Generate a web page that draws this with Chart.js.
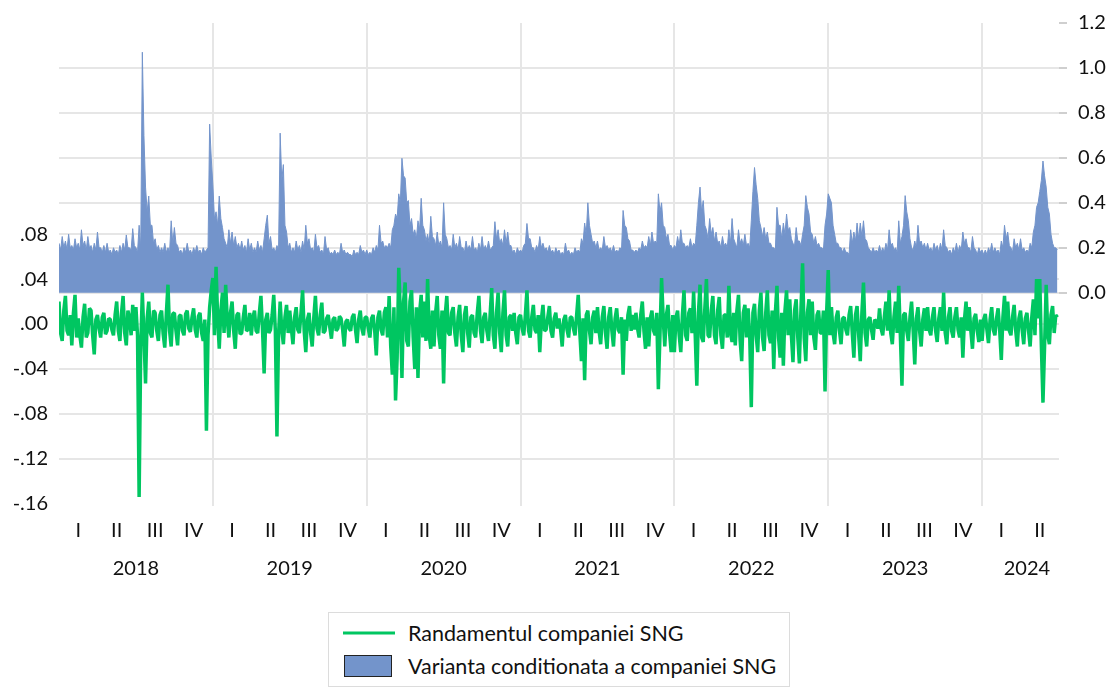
<!DOCTYPE html>
<html>
<head>
<meta charset="utf-8">
<script src="https://cdn.jsdelivr.net/npm/chart.js@4.4.1/dist/chart.umd.min.js"></script>
<style>
  html, body { margin: 0; padding: 0; background: #fff; }
  #wrap { position: relative; width: 1115px; height: 688px; }
  #legend { position: absolute; left: 328px; top: 612px; width: 460px; height: 73px;
            border: 1px solid #dcdcdc; background: #fff; font-family: Lato, sans-serif;
            font-size: 21.5px; color: #111; }
  .item { position: absolute; left: 0; width: 100%; height: 30px; }
  .item .lab { position: absolute; left: 79px; top: 50%; transform: translateY(-50%); white-space: nowrap; }
  .item .swl { position: absolute; left: 14px; width: 52px; height: 3px; top: 50%; transform: translateY(-50%); }
  .item .swb { position: absolute; left: 15px; width: 46px; height: 20px; top: 50%; transform: translateY(-50%); border: 1px solid #222; }
</style>
</head>
<body>
<div id="wrap">
  <canvas id="c" width="1115" height="688"></canvas>
  <div id="legend"></div>
</div>
<script>
// ---- data (24 readings per quarter, 2018Q1 .. 2024Q2) ----
const quarterLabels = ['I', 'II', 'III', 'IV'];
const yearLabels = ['2018', '2019', '2020', '2021', '2022', '2023', '2024'];
const seriesNames = ['Randamentul companiei SNG', 'Varianta conditionata a companiei SNG'];

const returns = [
  // 2018
  0.02, -0.008, -0.015, 0.012, 0.025, -0.006, -0.01, 0.008, -0.019, 0.01, 0.026, -0.012, 0.005, -0.01, -0.021, 0.006, 0.018, -0.012, -0.008, 0.014, 0.012, -0.01, -0.027, 0.004,
  0.008, -0.004, -0.012, 0.006, 0.01, -0.009, -0.006, 0.005, 0.004, -0.005, -0.01, 0.008, 0.02, -0.006, -0.015, 0.01, 0.025, -0.008, -0.019, 0.012, 0.006, -0.01, 0.017, -0.006,
  0.015, -0.01, -0.154, -0.02, 0.028, -0.01, -0.053, 0.005, 0.02, -0.008, -0.012, 0.012, 0.01, -0.006, -0.015, 0.008, 0.012, -0.009, -0.021, 0.01, 0.035, -0.006, -0.02, 0.009,
  0.01, -0.006, -0.019, 0.007, 0.008, -0.006, -0.01, 0.009, 0.012, -0.004, -0.007, 0.006, 0.014, -0.005, -0.012, 0.007, 0.01, -0.008, -0.015, 0.004, -0.095, -0.01, 0.015, 0.03,
  // 2019
  0.041, -0.01, 0.051, 0.005, -0.022, 0.012, 0.028, -0.008, 0.035, 0.004, -0.012, 0.01, 0.02, -0.006, -0.022, 0.008, 0.01, -0.009, -0.008, 0.006, 0.017, -0.006, -0.005, 0.01,
  -0.01, 0.006, 0.012, -0.006, -0.008, 0.01, 0.025, -0.005, -0.044, 0.004, 0.01, -0.008, -0.005, 0.008, 0.026, -0.006, -0.1, -0.01, 0.02, -0.005, -0.018, 0.006, 0.017, -0.008,
  0.012, -0.004, -0.018, 0.006, 0.015, -0.005, -0.008, 0.01, 0.03, -0.006, -0.025, 0.004, 0.01, -0.008, -0.02, 0.006, 0.025, -0.004, -0.01, 0.008, 0.019, -0.008, -0.006, 0.005,
  0.008, -0.003, -0.013, 0.004, 0.006, -0.006, -0.004, 0.007, 0.005, -0.005, -0.02, 0.002, 0.004, -0.004, -0.006, 0.006, 0.009, -0.005, -0.017, 0.004, 0.012, -0.004, -0.01, 0.006,
  // 2020
  0.006, -0.004, -0.012, 0.005, 0.008, -0.006, -0.028, 0.006, 0.012, -0.005, -0.01, 0.01, 0.015, -0.012, 0.025, -0.02, -0.045, 0.015, -0.068, -0.03, 0.05, 0.01, -0.048, 0.02,
  0.037, -0.015, -0.02, 0.02, 0.03, -0.012, -0.04, 0.015, -0.048, 0.01, 0.026, -0.012, 0.02, -0.015, 0.04, -0.01, -0.022, 0.012, -0.02, 0.01, 0.025, -0.01, -0.022, 0.012,
  -0.053, 0.008, 0.025, -0.008, -0.01, 0.01, 0.015, -0.008, -0.02, 0.006, 0.017, -0.01, -0.025, 0.008, 0.016, -0.008, -0.021, 0.006, 0.008, -0.008, -0.012, 0.01, 0.025, -0.006,
  -0.017, 0.006, 0.01, -0.006, -0.015, 0.008, 0.032, -0.01, -0.022, 0.01, 0.028, -0.008, -0.025, 0.01, 0.03, -0.01, -0.02, 0.006, 0.008, -0.006, 0.01, -0.008, -0.018, 0.006,
  // 2021
  0.008, -0.004, -0.01, 0.008, 0.03, -0.006, -0.012, 0.006, 0.017, -0.005, -0.008, 0.008, -0.025, 0.004, 0.017, -0.006, -0.005, 0.006, 0.016, -0.006, -0.012, 0.005, 0.01, -0.004,
  0.005, -0.005, -0.02, 0.004, 0.008, -0.005, -0.012, 0.006, 0.006, -0.004, -0.01, 0.008, 0.026, -0.008, -0.033, 0.005, -0.05, 0.008, 0.012, -0.006, -0.018, 0.006, 0.012, -0.008,
  0.015, -0.006, -0.018, 0.006, 0.016, -0.008, -0.022, 0.006, 0.015, -0.006, -0.02, 0.005, 0.014, -0.005, -0.008, 0.006, -0.045, 0.004, -0.015, 0.008, 0.016, -0.006, 0.008, -0.005,
  0.01, -0.004, -0.012, 0.008, 0.02, -0.006, -0.022, 0.006, -0.02, 0.005, 0.012, -0.006, -0.01, 0.01, -0.058, -0.01, 0.041, 0.006, -0.02, 0.008, 0.017, -0.008, -0.025, 0.008,
  // 2022
  -0.025, 0.006, 0.012, -0.01, -0.025, 0.008, 0.03, -0.01, -0.015, 0.01, 0.014, -0.008, 0.029, -0.01, -0.055, 0.01, 0.035, -0.012, -0.016, 0.014, 0.04, -0.01, -0.012, 0.012,
  0.025, -0.01, -0.018, 0.012, 0.024, -0.01, -0.022, 0.008, 0.008, -0.012, 0.034, -0.008, -0.016, 0.01, -0.019, 0.012, 0.026, -0.014, -0.033, 0.01, 0.017, -0.012, 0.014, -0.01,
  -0.074, 0.01, 0.018, -0.01, -0.025, 0.012, 0.028, -0.012, -0.024, 0.01, 0.03, -0.01, -0.017, 0.012, -0.04, 0.01, 0.034, -0.012, -0.03, 0.01, -0.037, 0.012, 0.03, -0.01,
  0.022, -0.01, -0.034, 0.012, 0.022, -0.012, -0.035, 0.014, 0.054, -0.012, -0.033, 0.01, 0.022, -0.01, 0.02, -0.012, -0.023, 0.008, 0.012, -0.008, -0.008, 0.012, -0.06, 0.01,
  // 2023
  0.048, -0.01, 0.015, -0.008, -0.018, 0.006, 0.012, -0.006, -0.018, 0.005, 0.006, -0.005, -0.01, 0.008, 0.016, -0.008, -0.03, 0.008, 0.016, -0.01, -0.033, 0.01, 0.037, -0.008,
  -0.02, 0.004, 0.006, -0.005, -0.014, 0.004, 0.002, -0.004, 0.014, -0.004, -0.01, 0.006, 0.02, -0.006, 0.03, -0.008, -0.018, 0.006, 0.02, -0.008, 0.034, -0.01, -0.055, 0.008,
  0.01, -0.006, -0.015, 0.006, 0.02, -0.006, -0.036, 0.005, 0.015, -0.006, -0.02, 0.004, 0.014, -0.006, 0.015, -0.005, -0.01, 0.006, 0.015, -0.006, -0.016, 0.005, 0.015, -0.006,
  0.028, -0.008, -0.018, 0.006, 0.015, -0.006, -0.012, 0.006, 0.015, -0.005, -0.012, 0.006, -0.03, 0.004, 0.02, -0.006, 0.015, -0.006, -0.022, 0.005, 0.009, -0.006, -0.016, 0.004,
  // 2024
  -0.015, 0.004, 0.009, -0.005, -0.017, 0.004, 0.015, -0.005, -0.01, 0.005, 0.014, -0.006, -0.032, 0.006, 0.025, -0.006, 0.02, -0.006, -0.01, 0.006, 0.017, -0.006, -0.02, 0.005,
  0.012, -0.005, -0.018, 0.005, 0.01, -0.006, -0.02, 0.006, 0.022, -0.01, 0.04, 0.005, 0.04, -0.02, -0.07, -0.02, 0.035, -0.01, -0.018, 0.008, 0.016, -0.008, 0.008, 0.006
];

const variance = [
  // 2018
  0.22, 0.19, 0.25, 0.2, 0.23, 0.19, 0.26, 0.2, 0.21, 0.19, 0.24, 0.2, 0.22, 0.19, 0.28, 0.21, 0.23, 0.19, 0.25, 0.2, 0.21, 0.18, 0.22, 0.19,
  0.27, 0.2, 0.2, 0.18, 0.21, 0.18, 0.22, 0.18, 0.19, 0.17, 0.2, 0.18, 0.19, 0.17, 0.21, 0.18, 0.22, 0.19, 0.257, 0.2, 0.2, 0.19, 0.285, 0.21,
  0.2, 0.18, 0.3, 0.2, 1.07, 0.7, 0.47, 0.36, 0.43, 0.3, 0.3, 0.22, 0.24, 0.19, 0.21, 0.18, 0.2, 0.18, 0.22, 0.18, 0.2, 0.18, 0.32, 0.22,
  0.29, 0.22, 0.21, 0.18, 0.19, 0.17, 0.2, 0.18, 0.22, 0.18, 0.19, 0.17, 0.2, 0.18, 0.21, 0.18, 0.19, 0.17, 0.2, 0.18, 0.19, 0.2, 0.75, 0.6,
  // 2019
  0.48, 0.33, 0.36, 0.3, 0.43, 0.33, 0.29, 0.24, 0.22, 0.2, 0.28, 0.22, 0.27, 0.21, 0.25, 0.2, 0.22, 0.19, 0.23, 0.19, 0.21, 0.18, 0.24, 0.19,
  0.22, 0.18, 0.2, 0.18, 0.23, 0.19, 0.21, 0.18, 0.24, 0.3, 0.345, 0.22, 0.25, 0.19, 0.2, 0.18, 0.21, 0.19, 0.71, 0.5, 0.57, 0.3, 0.27, 0.2,
  0.22, 0.18, 0.2, 0.18, 0.23, 0.19, 0.21, 0.18, 0.23, 0.19, 0.3, 0.22, 0.24, 0.19, 0.2, 0.18, 0.26, 0.2, 0.21, 0.18, 0.19, 0.17, 0.25, 0.19,
  0.2, 0.17, 0.18, 0.17, 0.19, 0.17, 0.18, 0.17, 0.22, 0.18, 0.19, 0.17, 0.18, 0.17, 0.17, 0.16, 0.19, 0.17, 0.18, 0.17, 0.21, 0.18, 0.19, 0.17,
  // 2020
  0.19, 0.17, 0.18, 0.17, 0.2, 0.18, 0.21, 0.19, 0.3, 0.22, 0.23, 0.2, 0.21, 0.2, 0.22, 0.2, 0.28, 0.3, 0.35, 0.33, 0.44, 0.4, 0.598, 0.52,
  0.51, 0.4, 0.41, 0.3, 0.33, 0.26, 0.28, 0.24, 0.32, 0.28, 0.42, 0.3, 0.28, 0.23, 0.26, 0.22, 0.34, 0.25, 0.24, 0.21, 0.27, 0.21, 0.23, 0.2,
  0.4, 0.26, 0.24, 0.2, 0.21, 0.19, 0.26, 0.2, 0.22, 0.19, 0.25, 0.2, 0.2, 0.18, 0.23, 0.19, 0.21, 0.19, 0.25, 0.19, 0.2, 0.18, 0.22, 0.19,
  0.25, 0.19, 0.21, 0.19, 0.23, 0.19, 0.2, 0.21, 0.316, 0.24, 0.28, 0.22, 0.24, 0.21, 0.28, 0.22, 0.27, 0.21, 0.21, 0.18, 0.19, 0.17, 0.2, 0.18,
  // 2021
  0.19, 0.18, 0.21, 0.22, 0.308, 0.24, 0.24, 0.2, 0.2, 0.18, 0.21, 0.19, 0.25, 0.2, 0.22, 0.19, 0.2, 0.18, 0.21, 0.18, 0.19, 0.17, 0.2, 0.18,
  0.19, 0.17, 0.18, 0.17, 0.22, 0.18, 0.19, 0.17, 0.18, 0.17, 0.2, 0.18, 0.19, 0.18, 0.24, 0.22, 0.31, 0.26, 0.4, 0.3, 0.26, 0.22, 0.23, 0.2,
  0.23, 0.19, 0.2, 0.19, 0.25, 0.2, 0.21, 0.19, 0.2, 0.18, 0.21, 0.18, 0.19, 0.18, 0.2, 0.19, 0.366, 0.3, 0.29, 0.24, 0.23, 0.19, 0.19, 0.18,
  0.19, 0.18, 0.2, 0.19, 0.23, 0.2, 0.21, 0.2, 0.25, 0.21, 0.27, 0.22, 0.23, 0.22, 0.44, 0.36, 0.4, 0.3, 0.29, 0.24, 0.26, 0.21, 0.21, 0.19,
  // 2022
  0.21, 0.2, 0.25, 0.21, 0.28, 0.22, 0.22, 0.2, 0.21, 0.2, 0.24, 0.2, 0.22, 0.21, 0.3, 0.4, 0.47, 0.36, 0.41, 0.3, 0.28, 0.24, 0.33, 0.26,
  0.29, 0.23, 0.27, 0.22, 0.23, 0.2, 0.25, 0.21, 0.22, 0.2, 0.28, 0.22, 0.33, 0.24, 0.22, 0.2, 0.28, 0.22, 0.24, 0.21, 0.26, 0.21, 0.22, 0.2,
  0.32, 0.45, 0.557, 0.48, 0.42, 0.32, 0.29, 0.25, 0.29, 0.24, 0.27, 0.22, 0.22, 0.2, 0.2, 0.19, 0.38, 0.3, 0.3, 0.24, 0.31, 0.26, 0.35, 0.28,
  0.29, 0.24, 0.22, 0.21, 0.29, 0.23, 0.23, 0.21, 0.26, 0.3, 0.432, 0.38, 0.35, 0.27, 0.26, 0.22, 0.25, 0.21, 0.22, 0.2, 0.2, 0.19, 0.3, 0.35,
  // 2023
  0.44, 0.42, 0.4, 0.3, 0.26, 0.22, 0.22, 0.2, 0.2, 0.18, 0.2, 0.18, 0.18, 0.17, 0.28, 0.22, 0.27, 0.23, 0.31, 0.24, 0.31, 0.25, 0.32, 0.24,
  0.23, 0.2, 0.19, 0.18, 0.2, 0.18, 0.19, 0.18, 0.21, 0.18, 0.2, 0.18, 0.22, 0.19, 0.28, 0.21, 0.22, 0.19, 0.2, 0.18, 0.32, 0.22, 0.25, 0.3,
  0.432, 0.36, 0.32, 0.24, 0.2, 0.19, 0.23, 0.2, 0.3, 0.22, 0.23, 0.2, 0.22, 0.19, 0.22, 0.19, 0.2, 0.18, 0.22, 0.19, 0.21, 0.18, 0.22, 0.19,
  0.28, 0.21, 0.2, 0.18, 0.19, 0.17, 0.2, 0.18, 0.22, 0.18, 0.21, 0.19, 0.27, 0.22, 0.24, 0.2, 0.2, 0.18, 0.25, 0.2, 0.19, 0.17, 0.2, 0.18,
  // 2024
  0.19, 0.17, 0.19, 0.17, 0.2, 0.18, 0.22, 0.18, 0.2, 0.18, 0.19, 0.17, 0.23, 0.2, 0.3, 0.24, 0.27, 0.21, 0.2, 0.18, 0.24, 0.2, 0.22, 0.19,
  0.24, 0.19, 0.2, 0.18, 0.19, 0.18, 0.22, 0.2, 0.27, 0.3, 0.38, 0.4, 0.45, 0.5, 0.586, 0.52, 0.47, 0.38, 0.35, 0.26, 0.22, 0.2, 0.2, 0.19
];

const leftTicks = [-0.16, -0.12, -0.08, -0.04, 0.00, 0.04, 0.08];
const rightTicks = [0.0, 0.2, 0.4, 0.6, 0.8, 1.0, 1.2];

// ---- chart ----
const PER_Q = 24, PER_Y = 96;
const nQ = returns.length / PER_Q;
const xMax = returns.length;
const GREEN = '#00C661', BLUE = '#7394CB', GRID = '#e6e6e6';
const font = { family: 'Lato', size: 20 };

const quarterTicks = [];
for (let y = 1; y < yearLabels.length; y++) quarterTicks.push(y * PER_Y);
for (let q = 0; q < nQ; q++) quarterTicks.push(q * PER_Q + PER_Q / 2);
quarterTicks.sort((a, b) => a - b);

const yearTicks = yearLabels.map((lab, i) => {
  const s = i * PER_Y, e = Math.min((i + 1) * PER_Y, xMax);
  return (e - s) === PER_Y ? (s + e) / 2 : (s + e) / 2 + 4;
});

const chart = new Chart(document.getElementById('c'), {
  data: {
    datasets: [
      {
        type: 'line', label: seriesNames[0], yAxisID: 'y', xAxisID: 'x',
        data: returns.map((v, i) => ({ x: i, y: v })),
        borderColor: GREEN, backgroundColor: GREEN, borderWidth: 3.5,
        borderJoinStyle: 'bevel',
        pointRadius: 0, tension: 0, fill: false, order: 0
      },
      {
        type: 'line', label: seriesNames[1], yAxisID: 'y1', xAxisID: 'x',
        data: variance.map((v, i) => ({ x: i, y: v })),
        borderColor: BLUE, backgroundColor: BLUE, borderWidth: 1,
        borderJoinStyle: 'bevel',
        pointRadius: 0, tension: 0, fill: 'origin', order: 1
      }
    ]
  },
  options: {
    responsive: false, animation: false, events: [],
    layout: { padding: { top: 17, bottom: 102, left: 0, right: 0 } },
    plugins: { legend: { display: false }, tooltip: { enabled: false } },
    scales: {
      x: {
        type: 'linear', position: 'bottom', min: 0, max: xMax, weight: 0,
        afterBuildTicks: s => { s.ticks = quarterTicks.map(v => ({ value: v })); },
        afterFit: s => { s.height = 40; },
        ticks: {
          autoSkip: false, maxRotation: 0, font, color: '#111', padding: 13,
          callback: v => (v % PER_Q === PER_Q / 2) ? quarterLabels[Math.floor(v / PER_Q) % 4] : ''
        },
        grid: {
          drawTicks: false, lineWidth: 2,
          color: c => (c.tick && c.tick.value % PER_Y === 0) ? GRID : 'rgba(0,0,0,0)'
        },
        border: { display: false }
      },
      xYear: {
        type: 'linear', position: 'bottom', min: 0, max: xMax, weight: 1,
        afterBuildTicks: s => { s.ticks = yearTicks.map(v => ({ value: v })); },
        afterFit: s => { s.height = 40; },
        ticks: {
          autoSkip: false, maxRotation: 0, font, color: '#111', padding: 11,
          callback: (v, i) => yearLabels[i]
        },
        grid: { display: false, drawTicks: false },
        border: { display: false }
      },
      y: {
        type: 'linear', position: 'left', min: -0.162, max: 0.268,
        afterBuildTicks: s => { s.ticks = leftTicks.map(v => ({ value: v })); },
        afterFit: s => { s.width = 59; },
        ticks: {
          font, color: '#111', padding: 11,
          callback: v => (v < 0 ? '-' : '') + Math.abs(v).toFixed(2).replace(/^0/, '')
        },
        grid: {
          drawTicks: false, lineWidth: 2,
          color: c => (c.tick && c.tick.value <= -0.16) ? 'rgba(0,0,0,0)' : GRID
        },
        border: { display: false }
      },
      y1: {
        type: 'linear', position: 'right', min: -0.949, max: 1.2,
        afterBuildTicks: s => { s.ticks = rightTicks.map(v => ({ value: v })); },
        afterFit: s => { s.width = 56; },
        ticks: {
          font, color: '#111', padding: 11,
          callback: v => v.toFixed(1)
        },
        grid: {
          drawTicks: true, tickLength: 8, lineWidth: 2, tickColor: '#cfcfcf',
          color: c => (c.tick && c.tick.value >= 1.1) ? 'rgba(0,0,0,0)' : GRID
        },
        border: { display: false }
      }
    }
  }
});

// HTML legend generated from the chart's datasets
const legend = document.getElementById('legend');
chart.data.datasets.forEach((ds, i) => {
  const item = document.createElement('div');
  item.className = 'item';
  item.style.top = (i === 0 ? 5 : 38) + 'px';
  const sw = document.createElement('div');
  if (ds.fill) { sw.className = 'swb'; sw.style.background = ds.backgroundColor; }
  else { sw.className = 'swl'; sw.style.background = ds.borderColor; }
  const lab = document.createElement('span');
  lab.className = 'lab';
  lab.textContent = ds.label;
  item.appendChild(sw); item.appendChild(lab);
  legend.appendChild(item);
});
</script>
</body>
</html>
